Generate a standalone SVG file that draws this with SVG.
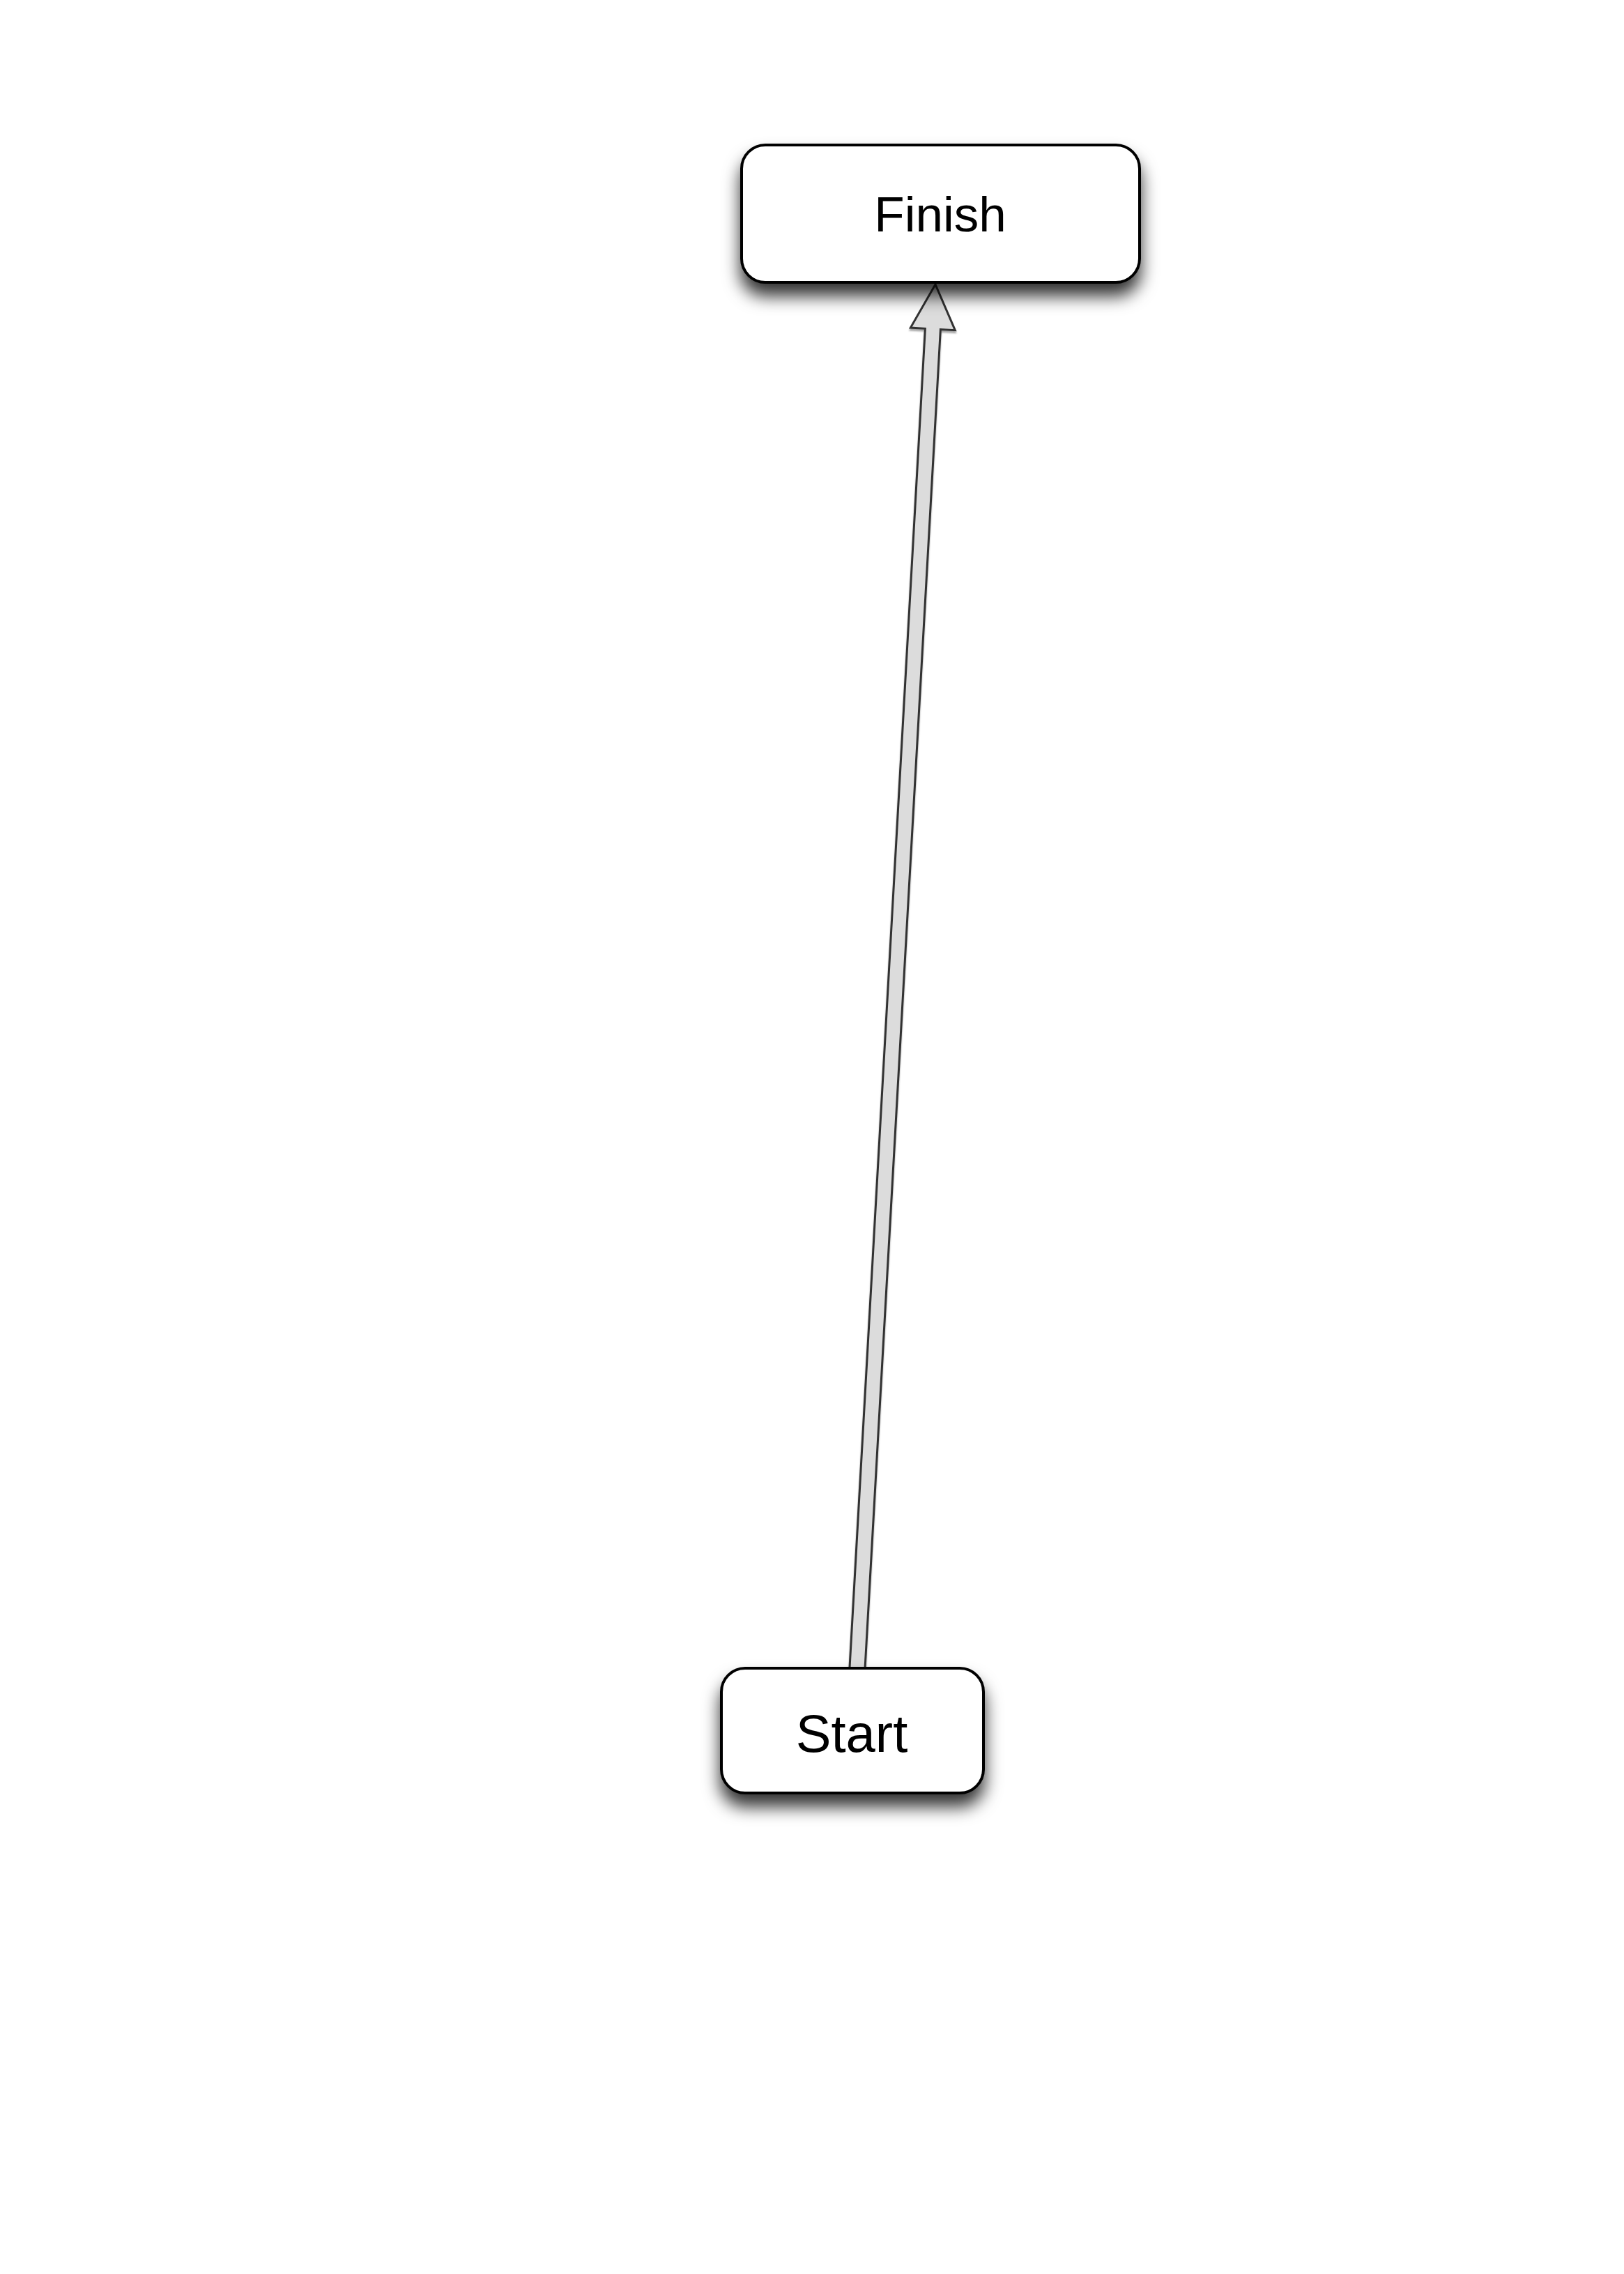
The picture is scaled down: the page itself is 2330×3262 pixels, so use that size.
<svg xmlns="http://www.w3.org/2000/svg" width="2330" height="3262" viewBox="0 0 2330 3262">
<style>
.node rect{fill:#fff;stroke:#000;stroke-width:4}
.node text{font-family:"Liberation Sans",Arial,sans-serif;fill:#000;text-anchor:middle}
.arrow{fill:#dcdcdc;stroke:#333;stroke-width:3;stroke-linejoin:miter}
</style>
<defs>
<filter id="shadow" x="-20%" y="-30%" width="140%" height="190%">
<feDropShadow dx="0" dy="18" stdDeviation="12" flood-color="#000" flood-opacity="0.8"/>
</filter>
<filter id="ashadow" x="-20%" y="-5%" width="140%" height="110%">
<feDropShadow dx="0" dy="3" stdDeviation="1.2" flood-color="#000" flood-opacity="0.35"/>
</filter>
</defs>
<rect width="2330" height="3262" fill="#fff"/>
<g id="connectors">
<polygon class="arrow" filter="url(#ashadow)" points="1342,408 1370.3,473.7 1349.4,472.5 1241,2393.6 1219,2392.4 1327.4,471.3 1306.4,470.1"/>
</g>
<g id="finish" class="node">
<rect x="1064" y="208" width="571" height="197" rx="34" ry="34" filter="url(#shadow)"/>
<text x="1349" y="332" font-size="71">Finish</text>
</g>
<g id="start" class="node">
<rect x="1035" y="2393" width="376" height="179" rx="34" ry="34" filter="url(#shadow)"/>
<text x="1222" y="2513" font-size="76">Start</text>
</g>
</svg>
